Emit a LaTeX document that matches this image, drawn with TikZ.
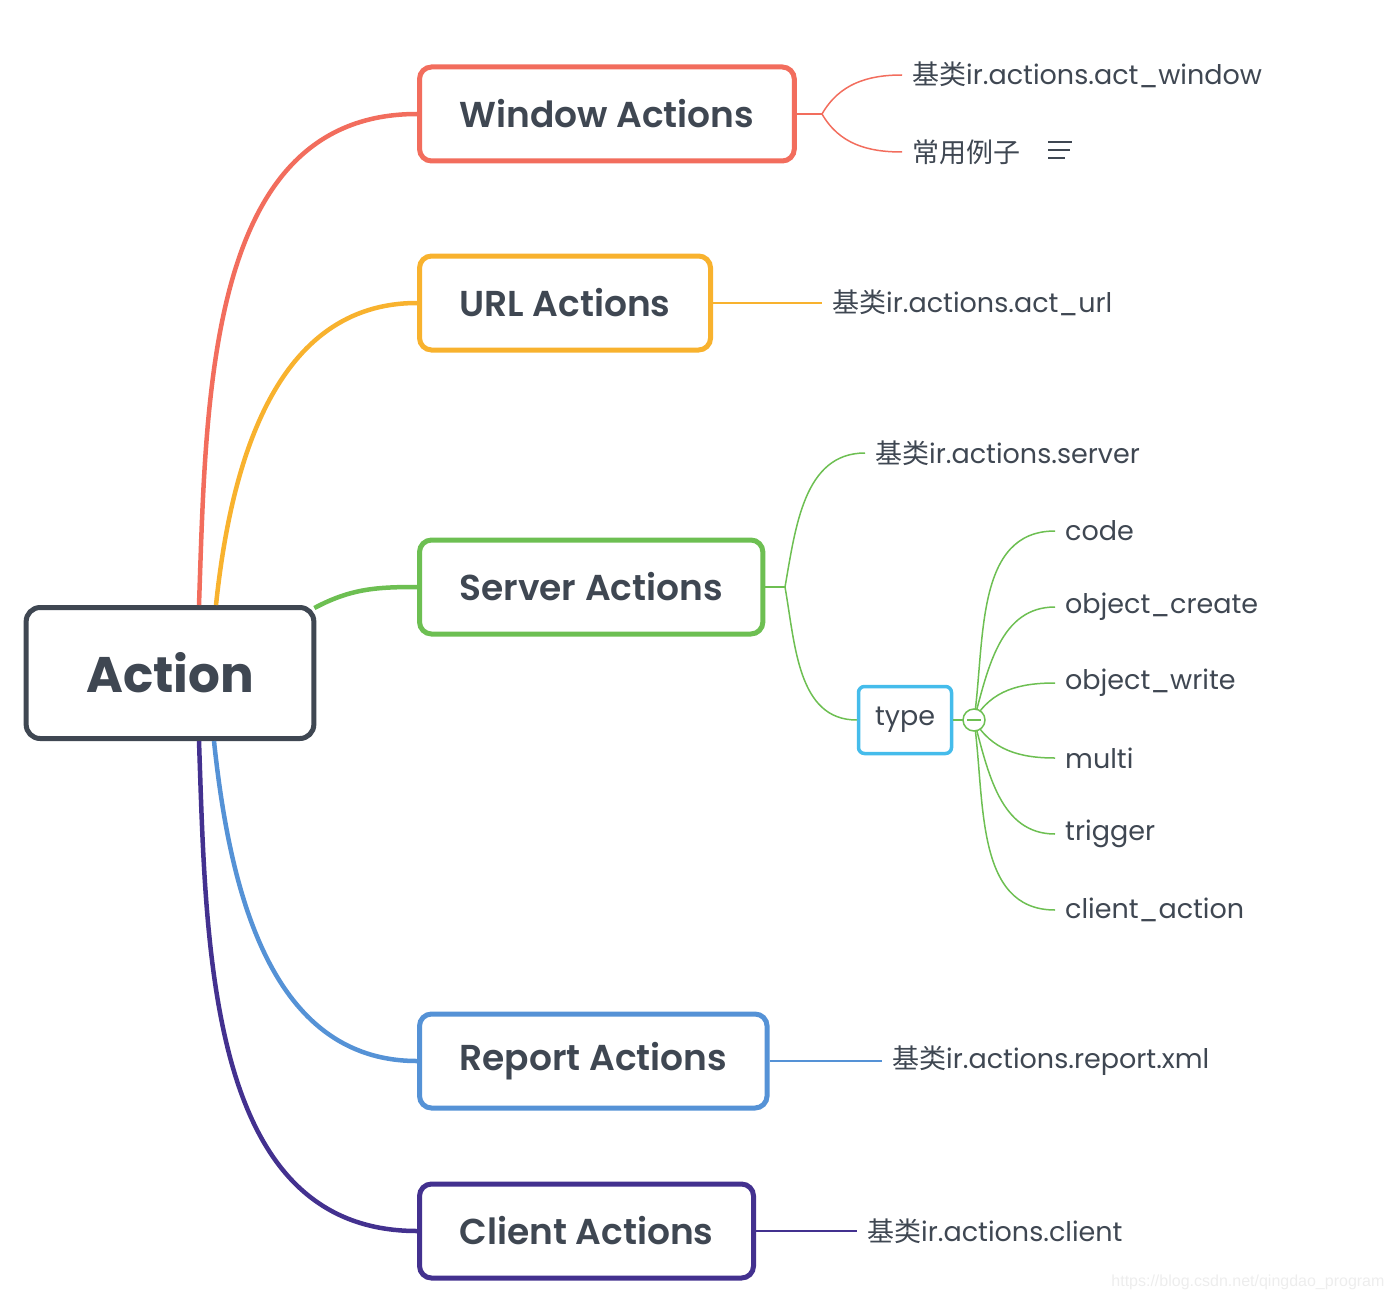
\documentclass[tikz,border=0pt]{standalone}
\usepackage{fontspec}
\usetikzlibrary{calc}
\setmainfont{Poppins}[BoldFont=Poppins SemiBold]
\newfontfamily\heavy{Poppins Bold}
\newfontfamily\cjk{Noto Sans CJK SC}
\newfontfamily\wmfont{Liberation Sans}
\definecolor{ink}{HTML}{3F4752}
\definecolor{cwin}{HTML}{F26D5D}
\definecolor{curl}{HTML}{F8B22E}
\definecolor{csrv}{HTML}{6DBF52}
\definecolor{crep}{HTML}{5592D6}
\definecolor{ccli}{HTML}{43318F}
\definecolor{ctyp}{HTML}{45BCEB}
\tikzset{
  topic/.style={draw=#1, line width=5pt, rounded corners=12pt, fill=white,
    text=ink, font=\fontsize{36}{40}\selectfont\bfseries, inner xsep=40pt,
    minimum height=94pt, anchor=west},
  root/.style={draw=ink, line width=5pt, rounded corners=14pt, fill=white,
    text=ink, font=\heavy\fontsize{50}{56}\selectfont, inner xsep=60pt,
    minimum height=131pt},
  leaf/.style={text=ink, font=\fontsize{27}{30}\selectfont, anchor=west, inner xsep=10pt},
  branch/.style={draw=#1, line width=4.5pt},
  twig/.style={draw=#1, line width=1.5pt},
}
\begin{document}
\begin{tikzpicture}[x=1pt,y=-1pt]
  \useasboundingbox (0,0) rectangle (1394,1300);

  \node[root] (act) at (170,673) {Action};

  \node[topic=cwin] (win) at (417,114) {Window Actions};
  \node[topic=curl] (url) at (417,303) {URL Actions};
  \node[topic=csrv] (srv) at (417,587) {Server Actions};
  \node[topic=crep] (rep) at (417,1061) {Report Actions};
  \node[topic=ccli] (cli) at (417,1231) {Client Actions};

  \draw[branch=cwin] (act.north -| 199,0) to[out=88,in=180] (win.west);
  \draw[branch=curl] (act.north -| 216,0) to[out=84,in=180] (url.west);
  \draw[branch=csrv] (act.north east) ++(-2,3) to[out=28,in=180] (srv.west);
  \draw[branch=crep] (act.south -| 214,0) to[out=-84,in=180] (rep.west);
  \draw[branch=ccli] (act.south -| 199,0) to[out=-88,in=180] (cli.west);

  % window actions
  \coordinate (winj) at (822,114);
  \node[leaf] (win1) at (902,75) {{\cjk 基类}ir.actions.act\_window};
  \node[leaf] (win2) at (902,152) {{\cjk 常用例子}};
  \draw[twig=cwin] (win.east) -- (winj);
  \draw[twig=cwin] (winj) to[out=60,in=180] (win1.west);
  \draw[twig=cwin] (winj) to[out=-60,in=180] (win2.west);
  \draw[ink, line width=2pt] (1048,142) -- (1072,142)
    (1048,150) -- (1070,150) (1048,158) -- (1065,158);

  % url actions
  \node[leaf] (url1) at (822,303) {{\cjk 基类}ir.actions.act\_url};
  \draw[twig=curl] (url.east) -- (url1.west);

  % server actions
  \coordinate (srvj) at (785,587);
  \node[leaf] (srv1) at (865,453) {{\cjk 基类}ir.actions.server};
  \node[draw=ctyp, line width=3.5pt, rounded corners=6pt, text=ink,
    font=\fontsize{27}{30}\selectfont, minimum width=93pt, minimum height=67pt]
    (typ) at (905,720) {\raisebox{-3pt}{type}};
  \draw[twig=csrv] (srv.east) -- (srvj);
  \draw[twig=csrv] (srvj) to[out=80,in=180] (srv1.west);
  \draw[twig=csrv] (srvj) to[out=-80,in=180] (typ.west);
  \coordinate (fold) at (974,720);
  \draw[twig=csrv] (typ.east) -- (fold);
  \foreach \name/\y/\ang/\txt in {t1/531/82/code, t2/607/75/object\_create,
      t3/683/60/object\_write, t4/758/-60/multi, t5/834/-75/trigger,
      t6/910/-82/client\_action} {
    \node[leaf] (\name) at (1055,\y) {\txt};
    \draw[twig=csrv] (fold) to[out=\ang,in=180] (\name.west);
  }
  \node[circle, draw=csrv, line width=1.5pt, fill=white, minimum size=22pt,
    inner sep=0pt] (foldc) at (fold) {};
  \draw[csrv, line width=1.5pt] ($(foldc.center)+(-7,0)$) -- ($(foldc.center)+(7,0)$);

  % report / client actions
  \node[leaf] (rep1) at (882,1061) {{\cjk 基类}ir.actions.report.xml};
  \draw[twig=crep] (rep.east) -- (rep1.west);
  \node[leaf] (cli1) at (857,1231) {{\cjk 基类}ir.actions.client};
  \draw[twig=ccli] (cli.east) -- (cli1.west);

  \node[text=black!7, font=\wmfont\fontsize{16}{18}\selectfont, anchor=east]
    (wm) at (1388,1282) {https://blog.csdn.net/qingdao\_program};
\end{tikzpicture}
\end{document}
